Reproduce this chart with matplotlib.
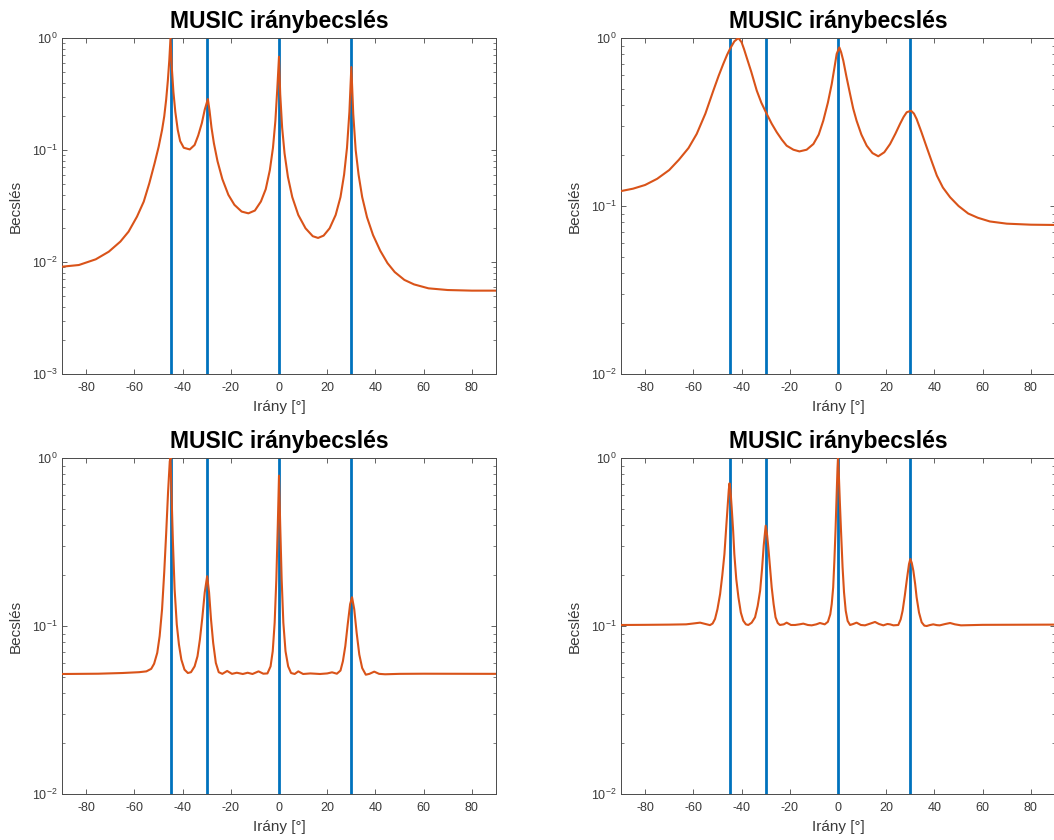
import matplotlib.pyplot as plt
import numpy as np

plt.rcParams["font.family"] = ["Liberation Sans", "DejaVu Sans"]
plt.rcParams["mathtext.default"] = "regular"
plt.rcParams["axes.unicode_minus"] = False

# true source directions [deg]
true_dirs = [-45, -30, 0, 30]

# MUSIC pseudo-spectra, normalised to the maximum
theta_a = [-90, -83, -76, -70.6, -65.8, -62.4, -58.9, -56.1, -53.8, -51.6,
           -49.9, -48.5, -47.6, -46.8, -46.1, -45.5, -45, -44.5, -43.8, -43.0,
           -42.0, -41.0, -39.5, -37.0, -35.0, -33.5, -32.0, -30.8, -29.5, -28.8,
           -28.0, -27.0, -25.5, -23.5, -21.0, -18.5, -15.5, -12.7, -10.0, -7.5,
           -5.5, -3.8, -2.5, -1.5, -0.7, 0, 0.5, 1.3, 2.3, 3.7,
           5.5, 8.0, 11.0, 14.0, 16.2, 18.5, 21.0, 23.5, 25.5, 27.0,
           28.2, 29.2, 30, 30.8, 31.8, 33.0, 34.5, 36.5, 39.0, 42.0,
           45.0, 48.0, 52.0, 56.0, 62.0, 70.0, 80, 90]
p_a = [0.00908, 0.00940, 0.01057, 0.01236, 0.01521, 0.01866, 0.02541, 0.03459, 0.05035, 0.07603,
       0.1072, 0.1510, 0.1995, 0.2818, 0.4169, 0.6310, 1.0, 0.5623, 0.3311, 0.2188,
       0.1514, 0.1202, 0.1047, 0.1012, 0.1109, 0.1349, 0.1738, 0.2291, 0.2851, 0.2239,
       0.1585, 0.1148, 0.0794, 0.0550, 0.0398, 0.0324, 0.0282, 0.0272, 0.0288, 0.0347,
       0.0447, 0.0661, 0.1047, 0.1820, 0.3548, 0.681, 0.3162, 0.1585, 0.0933, 0.0575,
       0.0380, 0.0263, 0.0200, 0.0170, 0.0164, 0.0172, 0.0200, 0.0263, 0.0380, 0.0603,
       0.1047, 0.2188, 0.550, 0.2089, 0.100, 0.0603, 0.0380, 0.0251, 0.0174, 0.0126,
       0.00977, 0.00813, 0.00692, 0.00631, 0.00582, 0.00562, 0.00555, 0.00555]

theta_b = [-90, -85, -80, -75, -70, -66, -62, -58.6, -55, -51.7,
           -49.5, -47.6, -46, -44.8, -43, -41.3, -40, -39, -37.9, -36,
           -33.7, -31.8, -29.9, -27.5, -25.4, -23.3, -21.3, -18.5, -16, -13,
           -10.2, -8, -6.1, -4.2, -2.6, -1.4, -0.55, 0.55, 1.3, 2.2,
           3.5, 5.0, 6.3, 7.7, 9.7, 11.9, 14.3, 16.7, 19.2, 21.6,
           23.8, 25.7, 27.2, 28.5, 30.3, 31.5, 32.6, 34.6, 36.8, 39,
           41.0, 43.5, 46.5, 50, 54, 58, 63, 70, 80, 90]
p_b = [0.1227, 0.1268, 0.1334, 0.1452, 0.1637, 0.1884, 0.2213, 0.2685, 0.3548, 0.4864,
       0.5957, 0.6998, 0.7943, 0.8610, 0.9550, 1.0, 0.9441, 0.8610, 0.7674, 0.6310,
       0.4864, 0.4121, 0.3614, 0.3090, 0.2748, 0.2483, 0.2286, 0.2163, 0.2113, 0.2163,
       0.2339, 0.2661, 0.3221, 0.4121, 0.5321, 0.6761, 0.8035, 0.8790, 0.8222, 0.7328,
       0.5888, 0.4645, 0.3802, 0.3221, 0.2661, 0.2286, 0.2065, 0.1977, 0.2089, 0.2339,
       0.2692, 0.3076, 0.3388, 0.3614, 0.3690, 0.3548, 0.3296, 0.2754, 0.2234, 0.1820,
       0.1517, 0.1288, 0.1127, 0.1000, 0.0902, 0.0851, 0.0809, 0.0785, 0.0774, 0.0771]

theta_c = [-90, -75, -65, -58, -55, -53, -51.8, -50.5, -49.5, -48.5,
           -47.6, -46.8, -46.0, -45.3, -45, -44.6, -44.0, -43.3, -42.4, -41.5,
           -40.5, -39.2, -37.8, -36.5, -35.0, -33.8, -32.8, -31.8, -30.8, -29.8,
           -29.0, -28.2, -27.3, -26.2, -25.0, -23.5, -21.5, -19.5, -17.5, -15,
           -13, -11, -8.5, -6.5, -4.8, -3.5, -2.6, -1.8, -1.1, -0.5,
           0, 0.5, 1.1, 1.8, 2.7, 3.8, 5.0, 6.5, 8.0, 10,
           13, 17, 20, 22, 24, 25.5, 26.5, 27.5, 28.5, 29.5,
           30.3, 31.2, 32.2, 33.3, 34.5, 36, 37.5, 39.5, 41.5, 44,
           50, 60, 90]
p_c = [0.0518, 0.0520, 0.0525, 0.0531, 0.0537, 0.0556, 0.0596, 0.0692, 0.0871, 0.1259,
       0.2089, 0.3548, 0.6310, 0.9550, 1.0, 0.6310, 0.3162, 0.1660, 0.1023, 0.0776,
       0.0631, 0.0550, 0.0525, 0.0531, 0.0575, 0.0661, 0.0832, 0.1122, 0.1585, 0.1977,
       0.1585, 0.1096, 0.0794, 0.0603, 0.0531, 0.0519, 0.0540, 0.0519, 0.0527, 0.0518,
       0.0527, 0.0518, 0.0537, 0.0520, 0.0522, 0.0575, 0.0708, 0.1047, 0.1905, 0.3981,
       0.7852, 0.3981, 0.1905, 0.1047, 0.0708, 0.0575, 0.0525, 0.0518, 0.0537, 0.0518,
       0.0522, 0.0518, 0.0522, 0.0530, 0.0520, 0.0543, 0.0617, 0.0759, 0.1023, 0.1349,
       0.1483, 0.1259, 0.0912, 0.0676, 0.0562, 0.0513, 0.0519, 0.0535, 0.0519, 0.0516,
       0.0519, 0.0520, 0.0519]

theta_d = [-90, -80, -70, -63, -60, -57.2, -55, -53.1, -52, -51,
           -50, -48.9, -48, -47.1, -46.4, -45.8, -45.3, -45, -44.6, -44.1,
           -43.5, -43.0, -42.2, -41.3, -40.3, -39.3, -38.2, -37.2, -35.8, -34.4,
           -33.3, -32.3, -31.5, -30.8, -30, -29.4, -28.9, -28.2, -27.5, -26.7,
           -25.9, -25, -24.1, -22.5, -21.3, -19.5, -17.8, -16, -14.4, -12.5,
           -10.9, -9, -7.5, -5.5, -4.2, -3.2, -2.6, -2.0, -1.5, -1.0,
           -0.55, -0.2, 0, 0.4, 0.8, 1.3, 1.9, 2.5, 3.2, 4.0,
           5.0, 6.3, 7.7, 9.5, 11.2, 13.5, 15.35, 17, 18.8, 20.5,
           21.6, 23, 25.0, 26, 26.8, 27.7, 28.5, 29.45, 30, 30.6,
           31.25, 32, 32.6, 33.6, 34.7, 35.8, 36.8, 38, 39.5, 41,
           42.2, 44.5, 46.5, 48.5, 51, 60, 90]
p_d = [0.1014, 0.1016, 0.1019, 0.1023, 0.1035, 0.1047, 0.1028, 0.1012, 0.1035, 0.1102,
       0.1259, 0.1549, 0.1995, 0.2685, 0.3802, 0.5082, 0.6457, 0.7063, 0.6457, 0.5082,
       0.3715, 0.2685, 0.1905, 0.1483, 0.1202, 0.1076, 0.1023, 0.1014, 0.1047, 0.1127,
       0.1318, 0.1622, 0.2188, 0.3020, 0.3954, 0.3467, 0.2938, 0.2239, 0.1698, 0.1349,
       0.1127, 0.1042, 0.1014, 0.1023, 0.1047, 0.1014, 0.1014, 0.1023, 0.1033, 0.1014,
       0.1009, 0.1023, 0.1042, 0.1023, 0.1059, 0.1175, 0.1352, 0.1698, 0.2449, 0.3802,
       0.6109, 0.8710, 1.0, 0.7586, 0.5321, 0.3548, 0.2234, 0.1585, 0.1233, 0.1072,
       0.1014, 0.1028, 0.1047, 0.1014, 0.1009, 0.1035, 0.1057, 0.1028, 0.1009, 0.1028,
       0.1023, 0.1009, 0.1014, 0.1096, 0.1233, 0.1514, 0.1862, 0.2339, 0.2506, 0.2371,
       0.2133, 0.1778, 0.1483, 0.1202, 0.1052, 0.1005, 0.1000, 0.1012, 0.1023, 0.1012,
       0.1009, 0.1028, 0.1042, 0.1023, 0.1009, 0.1016, 0.1019]

spectra = [(theta_a, p_a, 1e-3), (theta_b, p_b, 1e-2),
           (theta_c, p_c, 1e-2), (theta_d, p_d, 1e-2)]

# axes boxes in figure fraction [left, bottom, width, height]
W, H = 1054, 840
boxes = [
    [62 / W, 1 - 374 / H, 434 / W, 336 / H],
    [621 / W, 1 - 374 / H, 434 / W, 336 / H],
    [62 / W, 1 - 794 / H, 434 / W, 336 / H],
    [621 / W, 1 - 794 / H, 434 / W, 336 / H],
]

axis_col = "#4a4a4a"
text_col = "#3a3a3a"

fig = plt.figure(figsize=(W / 100, H / 100), dpi=100)

for box, (theta, p, ymin) in zip(boxes, spectra):
    ax = fig.add_axes(box)
    for d in true_dirs:
        ax.axvline(d, color="#0072BD", lw=2.0, zorder=2)
    ax.plot(theta, p, color="#D95319", lw=1.5, zorder=3)

    ax.set_yscale("log")
    ax.set_xlim(-90, 90)
    ax.set_ylim(ymin, 1)
    ax.set_xticks(np.arange(-80, 81, 20))

    ax.tick_params(which="both", direction="in", top=True, right=True,
                   color=axis_col, labelcolor=text_col, labelsize=9)
    ax.tick_params(which="major", length=3.5, width=0.6)
    ax.tick_params(which="minor", length=2, width=0.5)
    ax.tick_params(axis="x", pad=6)
    ax.tick_params(axis="y", pad=3)
    for s in ax.spines.values():
        s.set_color(axis_col)
        s.set_linewidth(0.7)

    ax.set_title("MUSIC iránybecslés", fontsize=16.5, fontweight="bold", pad=7)
    ax.set_xlabel("Irány [°]", fontsize=11, color=text_col)
    ax.set_ylabel("Becslés", fontsize=11, color=text_col)
    ax.xaxis.set_label_coords(0.5, -0.078)
    ax.yaxis.set_label_coords(-0.09, 0.5)

fig.savefig("out.png", dpi=100)
